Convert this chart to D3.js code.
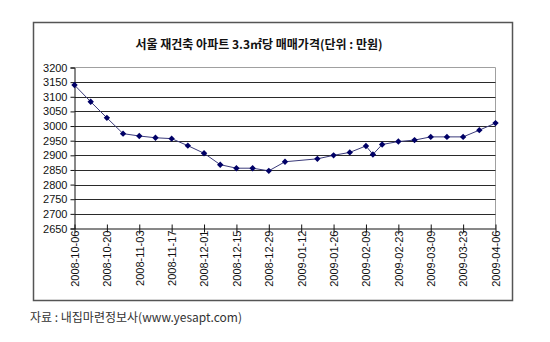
<!DOCTYPE html>
<html>
<head>
<meta charset="utf-8">
<script src="https://cdn.jsdelivr.net/npm/d3@7"></script>
<style>
  html, body { margin: 0; padding: 0; background: #fff; }
  svg { display: block; }
</style>
</head>
<body>
<svg id="chart" width="550" height="342"></svg>
<script>
// Weekly price of Seoul reconstruction apartments (10,000 KRW per 3.3㎡)
const dates = ["2008-10-06","2008-10-13","2008-10-20","2008-10-27","2008-11-03","2008-11-10",
  "2008-11-17","2008-11-24","2008-12-01","2008-12-08","2008-12-15","2008-12-22","2008-12-29",
  "2009-01-05","2009-01-19","2009-01-26","2009-02-02","2009-02-09","2009-02-12","2009-02-16",
  "2009-02-23","2009-03-02","2009-03-09","2009-03-16","2009-03-23","2009-03-30","2009-04-06"];
const prices = [3140,3083,3028,2974,2966,2960,2957,2933,2907,2868,2856,2856,2847,
  2878,2888,2900,2910,2932,2903,2937,2947,2952,2963,2963,2963,2986,3010];

const xTickLabels = ["2008-10-06","2008-10-20","2008-11-03","2008-11-17","2008-12-01",
  "2008-12-15","2008-12-29","2009-01-12","2009-01-26","2009-02-09","2009-02-23",
  "2009-03-09","2009-03-23","2009-04-06"];
const yTicks = [2650,2700,2750,2800,2850,2900,2950,3000,3050,3100,3150,3200];

const title = "서울 재건축 아파트 3.3㎡당 매매가격(단위 : 만원)";
const source = "자료 : 내집마련정보사(www.yesapt.com)";

const parse = d3.utcParse("%Y-%m-%d");
const fmt = d3.utcFormat("%Y-%m-%d");
const data = dates.map((d, i) => ({ date: parse(d), value: prices[i] }));

const svg = d3.select("#chart");
const plot = { left: 74.5, right: 495.5, top: 67.5, bottom: 228.5 };

const x = d3.scaleUtc()
  .domain([parse(xTickLabels[0]), parse(xTickLabels[xTickLabels.length - 1])])
  .range([plot.left, plot.right]);
const y = d3.scaleLinear()
  .domain([2650, 3200])
  .range([plot.bottom, plot.top]);

// Chart frame
svg.append("rect")
  .attr("x", 33.5).attr("y", 22.5)
  .attr("width", 479).attr("height", 278)
  .attr("fill", "#fff").attr("stroke", "#555").attr("stroke-width", 1.5);

// Title
svg.append("text")
  .attr("x", 259).attr("y", 49)
  .attr("text-anchor", "middle")
  .style("font-family", "'Noto Sans CJK KR', sans-serif")
  .style("font-size", "12px").style("font-weight", "bold")
  .attr("fill", "#111")
  .text(title);

// Plot area border (top and right)
svg.append("path")
  .attr("d", `M${plot.left},${plot.top}H${plot.right}V${plot.bottom}`)
  .attr("fill", "none").attr("stroke", "#a0a0a0").attr("stroke-width", 1);

// Horizontal gridlines
svg.append("g")
  .selectAll("line")
  .data(yTicks.filter(v => v > 2650 && v < 3200))
  .join("line")
  .attr("x1", plot.left).attr("x2", plot.right)
  .attr("y1", d => Math.round(y(d)) + 0.5).attr("y2", d => Math.round(y(d)) + 0.5)
  .attr("stroke", "#2a2a2a").attr("stroke-width", 1);

// Y axis
const yAxis = d3.axisLeft(y)
  .tickValues(yTicks)
  .tickSize(4)
  .tickPadding(3)
  .tickFormat(d3.format("d"));
const gy = svg.append("g")
  .attr("transform", `translate(${plot.left},0)`)
  .call(yAxis);
gy.select(".domain").attr("stroke", "#111");
gy.selectAll(".tick line").attr("stroke", "#111");
gy.selectAll(".tick text")
  .style("font-family", "'Liberation Sans', Arial, sans-serif")
  .style("font-size", "11px").attr("fill", "#111");

// X axis with ticks crossing the baseline and vertical labels
const xAxis = d3.axisBottom(x)
  .tickValues(xTickLabels.map(parse))
  .tickSizeInner(4)
  .tickSizeOuter(0)
  .tickFormat(fmt);
const gx = svg.append("g")
  .attr("transform", `translate(0,${plot.bottom})`)
  .call(xAxis);
gx.select(".domain").attr("stroke", "#111");
gx.selectAll(".tick line").attr("y1", -4).attr("y2", 4).attr("stroke", "#111");
gx.selectAll(".tick text")
  .style("font-family", "'Liberation Sans', Arial, sans-serif")
  .style("font-size", "11px").attr("fill", "#111")
  .attr("text-anchor", "end")
  .attr("dy", "0.35em")
  .attr("transform", "translate(0,-7) rotate(-90)")
  .attr("x", -9).attr("y", 0);

// Price line
const line = d3.line()
  .x(d => x(d.date))
  .y(d => y(d.value));
svg.append("path")
  .datum(data)
  .attr("d", line)
  .attr("fill", "none")
  .attr("stroke", "#3a3a7a")
  .attr("stroke-width", 1);

// Diamond markers
const diamond = d3.symbol().type(d3.symbolDiamond2).size(26);
svg.append("g")
  .selectAll("path")
  .data(data)
  .join("path")
  .attr("d", diamond)
  .attr("transform", d => `translate(${x(d.date)},${y(d.value)})`)
  .attr("fill", "#000066");

// Source note
svg.append("text")
  .attr("x", 30).attr("y", 322)
  .style("font-family", "'Noto Sans CJK KR', sans-serif")
  .style("font-size", "12px")
  .attr("fill", "#333")
  .text(source);
</script>
</body>
</html>
